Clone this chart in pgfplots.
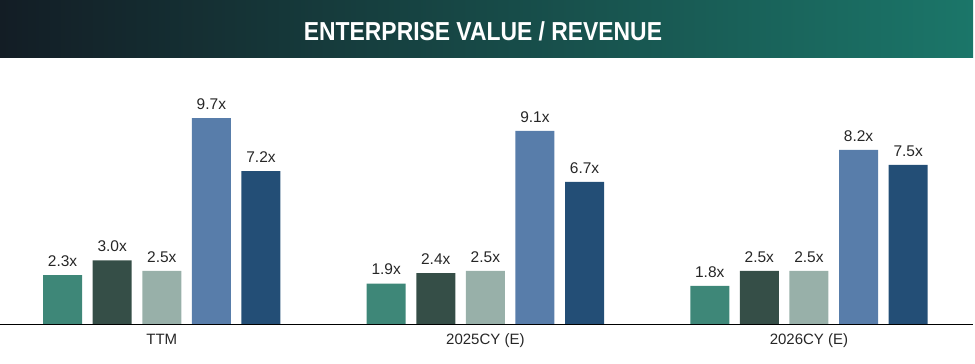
\documentclass[border=0pt]{standalone}
\usepackage{pgfplots}
\pgfplotsset{compat=1.18}
\usepackage{fontspec}
\setmainfont{Liberation Sans}
\definecolor{cA}{HTML}{3E8778}
\definecolor{cB}{HTML}{354E47}
\definecolor{cC}{HTML}{98B0A9}
\definecolor{cD}{HTML}{587DAA}
\definecolor{cE}{HTML}{234E76}
\definecolor{tL}{HTML}{131D25}
\definecolor{tR}{HTML}{1B7669}
\begin{document}
\begin{tikzpicture}
\path[use as bounding box] (0pt,0pt) rectangle (975pt,364pt);
\shade[left color=tL, right color=tR] (0pt,306pt) rectangle (973pt,364pt);
\node[text=white, font=\fontsize{26}{28}\selectfont\bfseries] at (483pt,333pt) {\scalebox{0.88}[1]{ENTERPRISE VALUE / REVENUE}};
\begin{axis}[
  at={(0pt,40pt)}, anchor=south west, scale only axis,
  width=973pt, height=259pt,
  xmin=-0.5, xmax=2.507, ymin=0, ymax=12.2,
  ybar=10.6pt, bar width=39pt,
  axis x line*=bottom, axis y line=none,
  x axis line style={black, line width=0.8pt, -},
  xtick={0,1,2}, xticklabels={TTM,2025CY (E),2026CY (E)},
  xtick style={draw=none}, ytick=\empty,
  ticklabel style={font=\fontsize{15}{17}\selectfont, text=black!85, yshift=-2pt},
  /pgf/number format/assume math mode=true,
  clip=false,
  nodes near coords={\pgfmathprintnumber[fixed,fixed zerofill,precision=1,assume math mode=true]{\pgfplotspointmeta}x},
  every node near coord/.append style={font=\fontsize{15.5}{17}\selectfont, text=black!85, yshift=5pt},
]
\addplot[fill=cA, draw=none] coordinates {(0,2.3) (1,1.9) (2,1.8)};
\addplot[fill=cB, draw=none] coordinates {(0,3.0) (1,2.4) (2,2.5)};
\addplot[fill=cC, draw=none] coordinates {(0,2.5) (1,2.5) (2,2.5)};
\addplot[fill=cD, draw=none] coordinates {(0,9.7) (1,9.1) (2,8.2)};
\addplot[fill=cE, draw=none] coordinates {(0,7.2) (1,6.7) (2,7.5)};
\end{axis}
\end{tikzpicture}
\end{document}
